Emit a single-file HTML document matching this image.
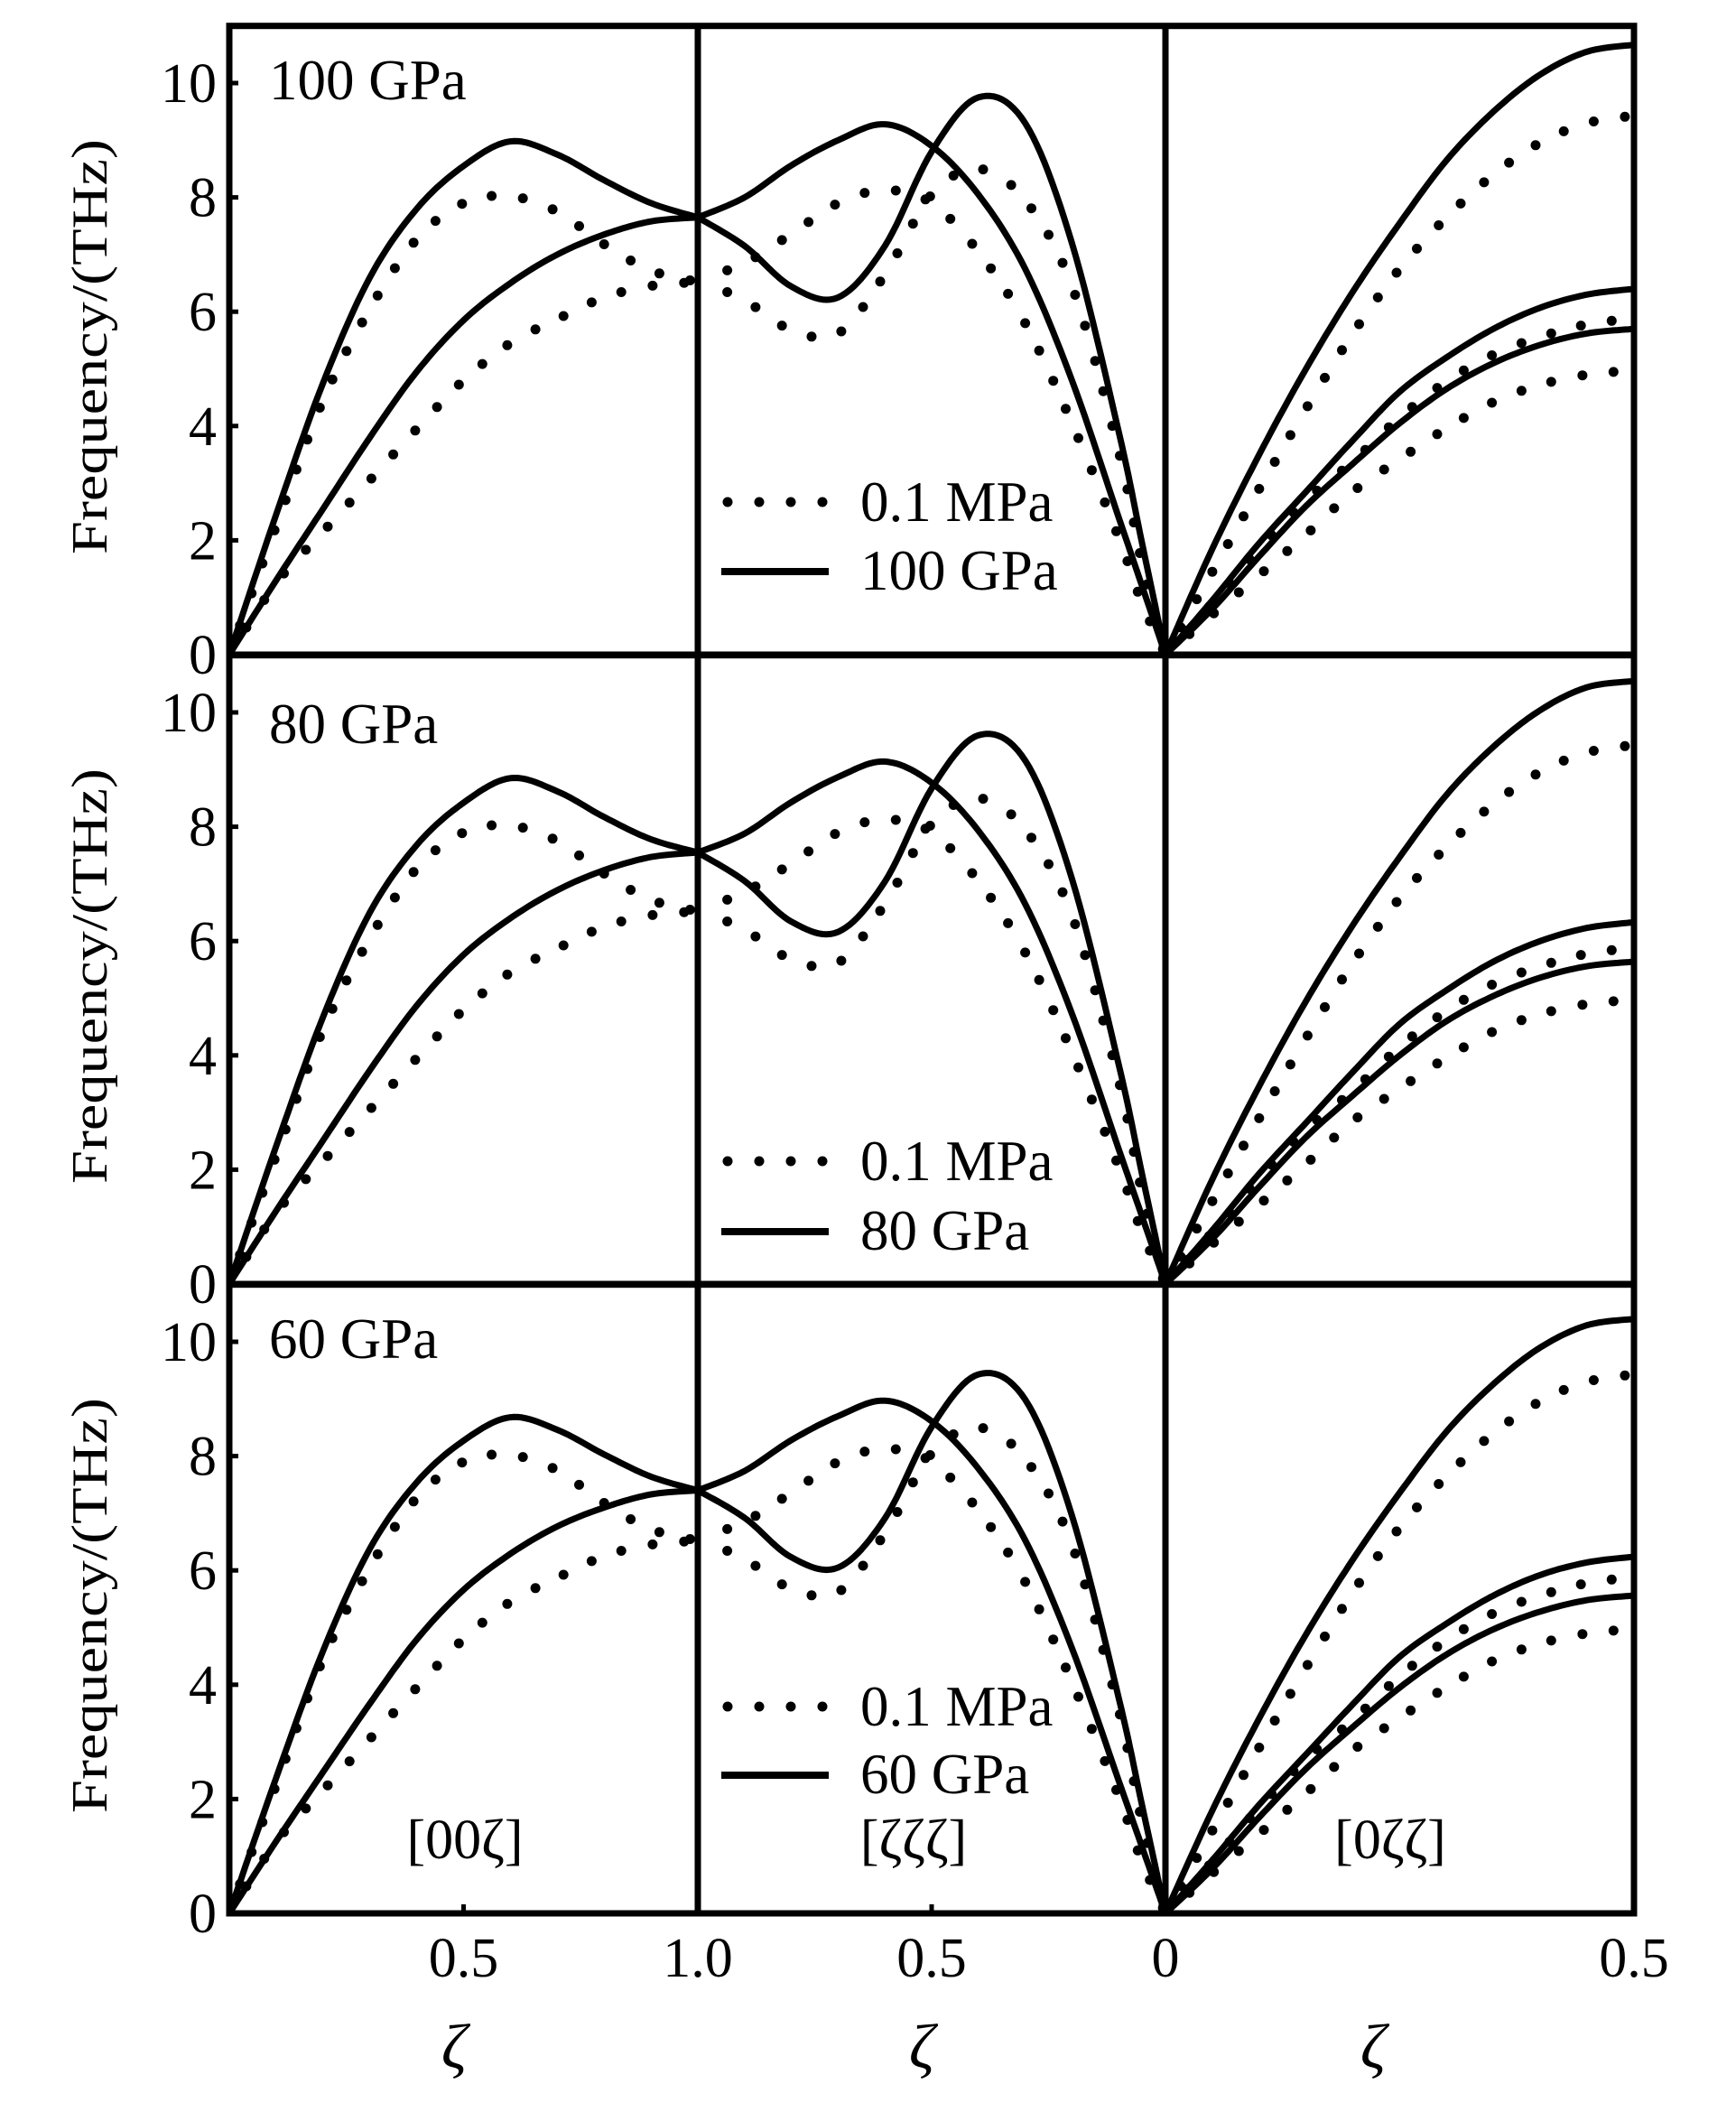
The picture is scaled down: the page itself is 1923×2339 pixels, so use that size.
<!DOCTYPE html>
<html><head><meta charset="utf-8">
<style>
html,body{margin:0;padding:0;background:#fff;}
svg{display:block;}
text{font-family:"Liberation Serif",serif;fill:#000;}
</style></head>
<body>
<svg id="chart" width="1923" height="2339" viewBox="0 0 1923 2339" xmlns="http://www.w3.org/2000/svg">
<g id="frames"></g>
<g id="curves"></g>
<g id="labels"></g>
</svg>
<script>
// ---- data ----
const panelNames = ["100 GPa", "80 GPa", "60 GPa"];
const yTicks = [0, 2, 4, 6, 8, 10];
const xTickLabels = ["0.5", "1.0", "0.5", "0", "0.5"];
const pathLabels = ["[00ζ]", "[ζζζ]", "[0ζζ]"];
const gridA = [0, .1, .2, .3, .4, .5, .6, .7, .8, .9, 1];
const gridB = [0, .1, .2, .3, .4, .5, .6, .7, .8, .9, .95, 1];

// 0.1 MPa reference (same in all panels)
const dotS1Upper = [0, 2.25, 4.45, 6.05, 7.27, 7.9, 8.02, 7.75, 7.18, 6.72, 6.52];
const dotS1Lower = [0, 1.25, 2.15, 3.05, 3.95, 4.8, 5.45, 5.87, 6.25, 6.45, 6.52];
const dotS2Upper = [6.55, 6.85, 7.36, 7.9, 8.13, 7.9, 7.05, 5.8, 4.05, 2.05, 0.9, 0];
const dotS2Lower = [6.55, 6.2, 5.68, 5.62, 6.65, 8.05, 8.5, 7.95, 6.45, 3.56, 1.6, 0];
const dotS3Top = [0, 1.45, 2.9, 4.3, 5.62, 6.75, 7.65, 8.4, 8.96, 9.3, 9.43];
const dotS3Mid = [0, 0.9, 1.85, 2.7, 3.38, 4.15, 4.78, 5.25, 5.56, 5.78, 5.88];
const dotS3Low = [0, 0.7, 1.39, 2.1, 2.85, 3.42, 3.96, 4.42, 4.72, 4.9, 4.97];

// high-pressure solid curves, per panel
const p1S1Upper = [0, 2.45, 4.75, 6.6, 7.8, 8.55, 8.98, 8.75, 8.3, 7.9, 7.65];
const p1S1Lower = [0, 1.3, 2.55, 3.8, 4.95, 5.85, 6.5, 7.0, 7.35, 7.58, 7.65];
const p1S2A = [7.65, 8.0, 8.56, 9.0, 9.28, 8.9, 8.05, 6.75, 4.8, 2.4, 1.2, 0];
const p1S2B = [7.65, 7.15, 6.44, 6.25, 7.15, 8.8, 9.75, 9.3, 7.2, 3.9, 1.95, 0];
const p1S3Top = [0, 1.85, 3.5, 5.0, 6.35, 7.55, 8.65, 9.5, 10.15, 10.55, 10.67];
const p1S3MidU = [0, 0.95, 1.95, 2.85, 3.75, 4.6, 5.2, 5.7, 6.07, 6.3, 6.4];
const p1S3MidL = [0, 0.8, 1.72, 2.6, 3.34, 4.05, 4.65, 5.1, 5.42, 5.62, 5.7];

const p2S1Upper = [0, 2.41, 4.67, 6.5, 7.68, 8.42, 8.85, 8.62, 8.17, 7.78, 7.55];
const p2S1Lower = [0, 1.28, 2.51, 3.74, 4.87, 5.76, 6.4, 6.89, 7.24, 7.47, 7.55];
const p2S2A = [7.55, 7.88, 8.43, 8.87, 9.14, 8.77, 7.93, 6.65, 4.73, 2.36, 1.18, 0];
const p2S2B = [7.55, 7.05, 6.34, 6.16, 7.04, 8.67, 9.6, 9.16, 7.09, 3.84, 1.92, 0];
const p2S3Top = [0, 1.83, 3.46, 4.95, 6.28, 7.47, 8.56, 9.4, 10.04, 10.44, 10.55];
const p2S3MidU = [0, 0.94, 1.93, 2.82, 3.71, 4.55, 5.14, 5.64, 6.0, 6.23, 6.33];
const p2S3MidL = [0, 0.79, 1.7, 2.57, 3.3, 4.0, 4.6, 5.04, 5.36, 5.56, 5.64];

const p3S1Upper = [0, 2.37, 4.59, 6.38, 7.54, 8.27, 8.68, 8.46, 8.03, 7.64, 7.4];
const p3S1Lower = [0, 1.26, 2.47, 3.67, 4.79, 5.66, 6.29, 6.77, 7.1, 7.33, 7.4];
const p3S2A = [7.4, 7.74, 8.28, 8.7, 8.97, 8.61, 7.78, 6.53, 4.64, 2.32, 1.16, 0];
const p3S2B = [7.4, 6.92, 6.23, 6.05, 6.91, 8.51, 9.43, 8.99, 6.96, 3.77, 1.89, 0];
const p3S3Top = [0, 1.8, 3.41, 4.88, 6.19, 7.36, 8.43, 9.26, 9.9, 10.29, 10.4];
const p3S3MidU = [0, 0.93, 1.9, 2.78, 3.66, 4.49, 5.07, 5.56, 5.92, 6.14, 6.24];
const p3S3MidL = [0, 0.78, 1.68, 2.53, 3.26, 3.95, 4.53, 4.97, 5.28, 5.48, 5.56];

const solidSets = [
  [p1S1Upper, p1S1Lower, p1S2A, p1S2B, p1S3Top, p1S3MidU, p1S3MidL],
  [p2S1Upper, p2S1Lower, p2S2A, p2S2B, p2S3Top, p2S3MidU, p2S3MidL],
  [p3S1Upper, p3S1Lower, p3S2A, p3S2B, p3S3Top, p3S3MidU, p3S3MidL]
];
const dotSet = [dotS1Upper, dotS1Lower, dotS2Upper, dotS2Lower, dotS3Top, dotS3Mid, dotS3Low];
const seriesSection = [0, 0, 1, 1, 2, 2, 2];

// ---- layout ----
const NS = "http://www.w3.org/2000/svg";
const secX = [254, 773, 1291, 1810];
const panelBottom = [725, 1422, 2119];
const PX_PER_THZ = 63.3;
const PANEL_TOP_THZ = 11;
const legendY = [[556, 633], [1286, 1364], [1890, 1966]];
const labelBaseline = [110, 823, 1504];

function xScale(sec, f) { return secX[sec] + f * (secX[sec + 1] - secX[sec]); }
function yScale(p, v) { return panelBottom[p] - v * PX_PER_THZ; }

function mk(tag, attrs, parent) {
  const e = document.createElementNS(NS, tag);
  for (const k in attrs) e.setAttribute(k, attrs[k]);
  parent.appendChild(e);
  return e;
}
function txt(s, attrs, parent) { const t = mk("text", attrs, parent); t.textContent = s; return t; }

// Catmull-Rom sampling
function sample(pts, n) {
  const out = [];
  for (let i = 0; i < pts.length - 1; i++) {
    const p0 = pts[Math.max(0, i - 1)], p1 = pts[i], p2 = pts[i + 1], p3 = pts[Math.min(pts.length - 1, i + 2)];
    for (let k = 0; k < n; k++) {
      const t = k / n, t2 = t * t, t3 = t2 * t;
      const f = (a, b, c, d) => 0.5 * ((2 * b) + (-a + c) * t + (2 * a - 5 * b + 4 * c - d) * t2 + (-a + 3 * b - 3 * c + d) * t3);
      out.push([f(p0[0], p1[0], p2[0], p3[0]), f(p0[1], p1[1], p2[1], p3[1])]);
    }
  }
  out.push(pts[pts.length - 1]);
  return out;
}

const frames = document.getElementById("frames");
const curves = document.getElementById("curves");
const labels = document.getElementById("labels");

for (let p = 0; p < 3; p++) {
  const bot = panelBottom[p], top = yScale(p, PANEL_TOP_THZ);
  const fr = mk("rect", {x: secX[0], y: top, width: secX[3] - secX[0], height: bot - top, fill: "none", stroke: "#000", "stroke-width": 7}, frames);
  
  
  for (let s = 1; s < 3; s++) {
    const dv = mk("line", {x1: secX[s], x2: secX[s], y1: top, y2: bot, stroke: "#000", "stroke-width": 7}, frames);
    
    
  }
  yTicks.forEach(v => {
    const y = yScale(p, v);
    const tk = mk("line", {x1: secX[0], x2: secX[0] + 10, y1: y, y2: y, stroke: "#000", "stroke-width": 5}, frames);
    
    
    const tl = txt(String(v), {x: 240, y: y + 21, "font-size": 62, "text-anchor": "end"}, labels);
    
    
  });
  const yt = txt("Frequency/(THz)", {x: 0, y: 0, "font-size": 56, "text-anchor": "middle", textLength: 460, lengthAdjust: "spacingAndGlyphs", transform: `translate(118,${bot - 341}) rotate(-90)`}, labels);
  
  
  const pl = txt(panelNames[p], {x: 298, y: labelBaseline[p], "font-size": 63}, labels);
  
  

  // legend
  const [ly1, ly2] = legendY[p];
  for (let i = 0; i < 4; i++) {
    const d = mk("circle", {cx: 806 + i * 35, cy: ly1, r: 5.5, fill: "#000"}, labels);
    
    
  }
  const ls = mk("line", {x1: 799, x2: 918, y1: ly2, y2: ly2, stroke: "#000", "stroke-width": 8}, labels);
  
  
  const lt1 = txt("0.1 MPa", {x: 953, y: ly1 + 21, "font-size": 63}, labels);
  
  
  const lt2 = txt(panelNames[p], {x: 953, y: ly2 + 20, "font-size": 63}, labels);
  
  

  // clip
  const cp = mk("clipPath", {id: "clip" + p}, curves);
  mk("rect", {x: secX[0], y: top, width: secX[3] - secX[0], height: bot - top + 4}, cp);
  const g = mk("g", {"clip-path": `url(#clip${p})`}, curves);

  // solid series
  solidSets[p].forEach((vals, si) => {
    const sec = seriesSection[si];
    const grid = sec === 1 ? gridB : gridA;
    const pts = vals.map((v, i) => [xScale(sec, grid[i]), yScale(p, v)]);
    const sm = sample(pts, 12);
    const path = mk("path", {d: "M" + sm.map(q => q[0].toFixed(1) + "," + q[1].toFixed(1)).join("L"), fill: "none", stroke: "#000", "stroke-width": 7, "stroke-linejoin": "round"}, g);
    
    
  });
  // dotted series
  dotSet.forEach((vals, si) => {
    const sec = seriesSection[si];
    const grid = sec === 1 ? gridB : gridA;
    const pts = vals.map((v, i) => [xScale(sec, grid[i]), yScale(p, v)]);
    const sm = sample(pts, 30);
    let acc = 0, step = 34;
    for (let i = 1; i < sm.length; i++) {
      const dx = sm[i][0] - sm[i - 1][0], dy = sm[i][1] - sm[i - 1][1];
      acc += Math.hypot(dx, dy);
      if (acc >= step) {
        acc = 0;
        const c = mk("circle", {cx: sm[i][0].toFixed(1), cy: sm[i][1].toFixed(1), r: 5.5, fill: "#000"}, g);
        
        
      }
    }
  });
}

// x axis labels
const xTickPos = [xScale(0, .5), secX[1], xScale(1, .5), secX[2], secX[3]];
xTickLabels.forEach((s, i) => {
  const t = txt(s, {x: xTickPos[i], y: 2189, "font-size": 62, "text-anchor": "middle"}, labels);
  
  
});
[xScale(0, .5), xScale(1, .5)].forEach(x => {
  const tk = mk("line", {x1: x, x2: x, y1: panelBottom[2], y2: panelBottom[2] - 10, stroke: "#000", "stroke-width": 5}, frames);
  
  
});
const pathLabelX = [515, 1012, 1540];
pathLabels.forEach((s, i) => {
  const t = txt(s, {x: pathLabelX[i], y: 2058, "font-size": 62, "text-anchor": "middle"}, labels);
  
  
});
[503, 1021, 1521].forEach(x => {
  const t = txt("ζ", {x: x, y: 2290, "font-size": 70, "font-style": "italic", "text-anchor": "middle"}, labels);
  
  
});
</script>
</body></html>
